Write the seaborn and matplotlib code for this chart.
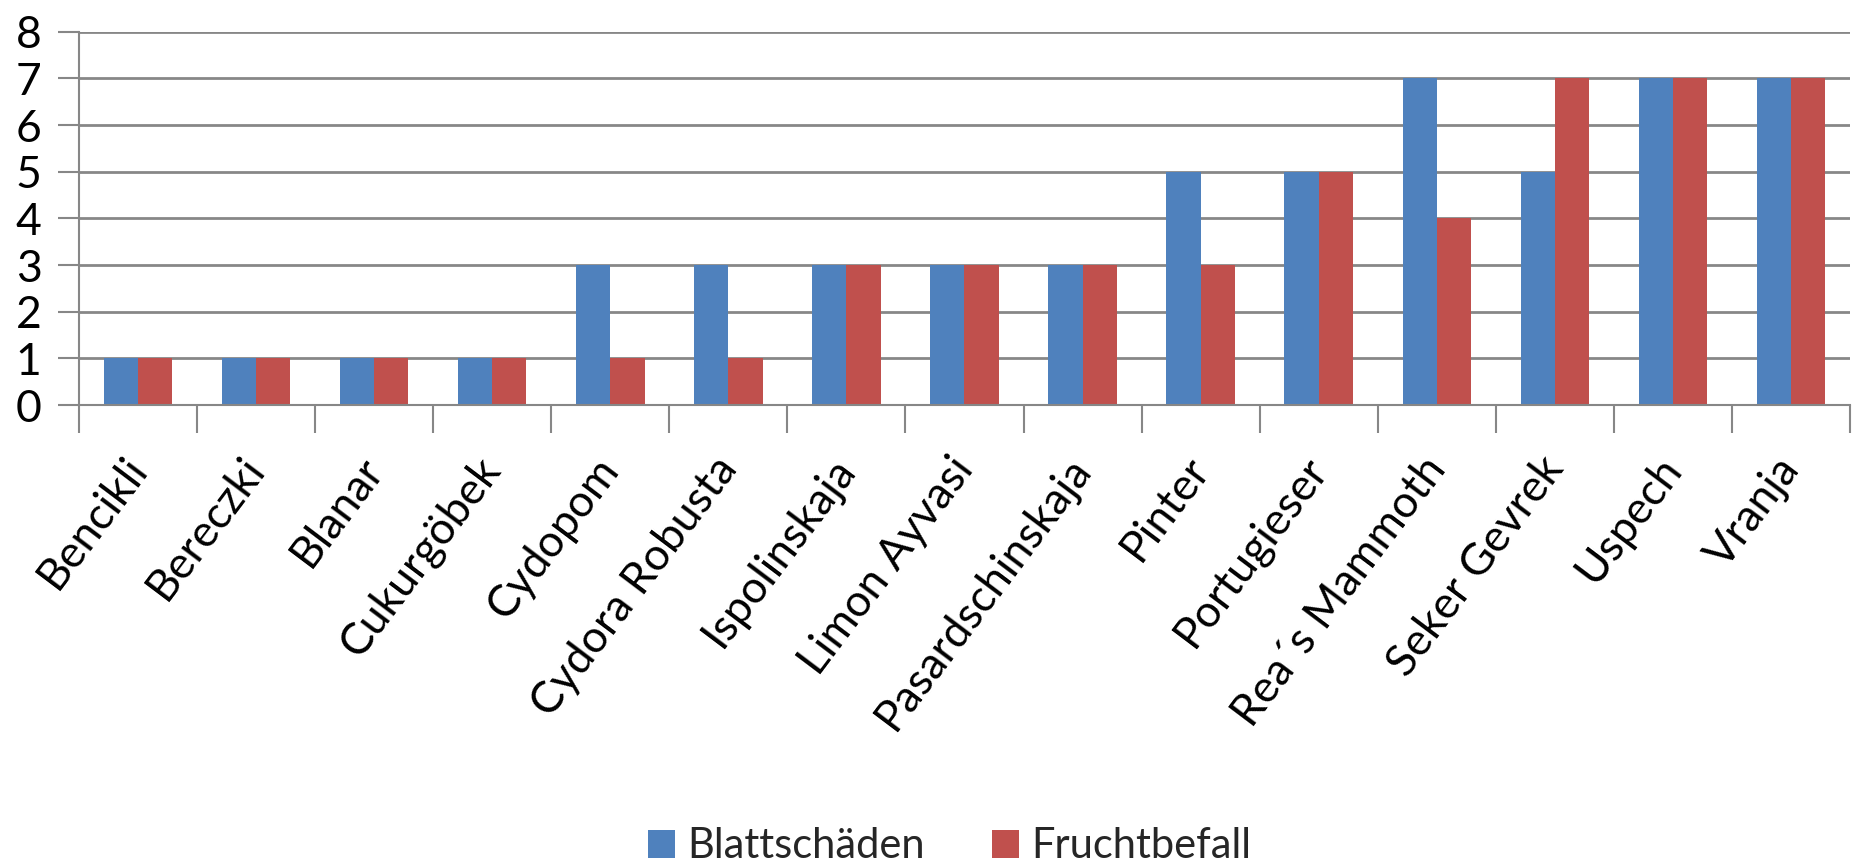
import matplotlib
matplotlib.use("Agg")
import matplotlib.pyplot as plt
import matplotlib.transforms as mtransforms
import seaborn as sns
import pandas as pd
import numpy as np
from matplotlib.patches import Patch

categories = ["Bencikli", "Bereczki", "Blanar", "Cukurgöbek", "Cydopom",
              "Cydora Robusta", "Ispolinskaja", "Limon Ayvasi", "Pasardschinskaja",
              "Pinter", "Portugieser", "Rea´s Mammoth", "Seker Gevrek", "Uspech", "Vranja"]
blatt = [1, 1, 1, 1, 3, 3, 3, 3, 3, 5, 5, 7, 5, 7, 7]
frucht = [1, 1, 1, 1, 1, 1, 3, 3, 3, 3, 5, 4, 7, 7, 7]
series_names = ["Blattschäden", "Fruchtbefall"]
colors = ["#4F81BD", "#C0504D"]
yticks = [0, 1, 2, 3, 4, 5, 6, 7, 8]

df = pd.DataFrame({
    "Sorte": categories * 2,
    "Wert": blatt + frucht,
    "Serie": [series_names[0]] * len(categories) + [series_names[1]] * len(categories),
})

sns.set_theme(style="white")
plt.rcParams['font.family'] = ['Lato', 'DejaVu Sans']

fig = plt.figure(figsize=(18.58, 8.68), dpi=100)
ax = fig.add_axes([79 / 1858, 1 - 405 / 868, (1850 - 79) / 1858, (405 - 31.7) / 868])

sns.barplot(data=df, x="Sorte", y="Wert", hue="Serie", palette=colors,
            width=0.58, saturation=1, ax=ax, legend=False, linewidth=0)

grid_c = "#878787"
ax.set_ylim(0, 8)
ax.set_xlim(-0.5, len(categories) - 0.5)
ax.set_yticks(yticks)
ax.set_yticklabels([str(v) for v in yticks], fontsize=32, color="black")
ax.yaxis.grid(True, color=grid_c, linewidth=2)
ax.set_axisbelow(True)
ax.tick_params(axis="y", length=15, width=1.5, color=grid_c, pad=12, left=True)

ax.set_xticks(range(len(categories)))
ax.set_xticklabels(categories, rotation=53, ha="right", rotation_mode="anchor",
                   fontsize=32, color="black")
ax.tick_params(axis="x", length=0, pad=32)
offset = mtransforms.ScaledTranslation(-16 / 100, 0, fig.dpi_scale_trans)
for lab in ax.get_xticklabels():
    lab.set_transform(lab.get_transform() + offset)
ax.set_xticks(np.arange(-0.5, len(categories), 1.0), minor=True)
ax.tick_params(axis="x", which="minor", length=20, width=1.5, color=grid_c, bottom=True)

for s in ["top", "right"]:
    ax.spines[s].set_visible(False)
for s in ["left", "bottom"]:
    ax.spines[s].set_color(grid_c)
    ax.spines[s].set_linewidth(1.5)
ax.set_xlabel("")
ax.set_ylabel("")

handles = [Patch(facecolor=c, edgecolor="none") for c in colors]
fig.legend(handles, series_names, loc="center", bbox_to_anchor=(0.511, 0.025),
           ncol=2, frameon=False, fontsize=30, handlelength=0.65, handleheight=0.65,
           handletextpad=0.3, columnspacing=1.6)

fig.savefig("out.png", dpi=100, facecolor="white")
